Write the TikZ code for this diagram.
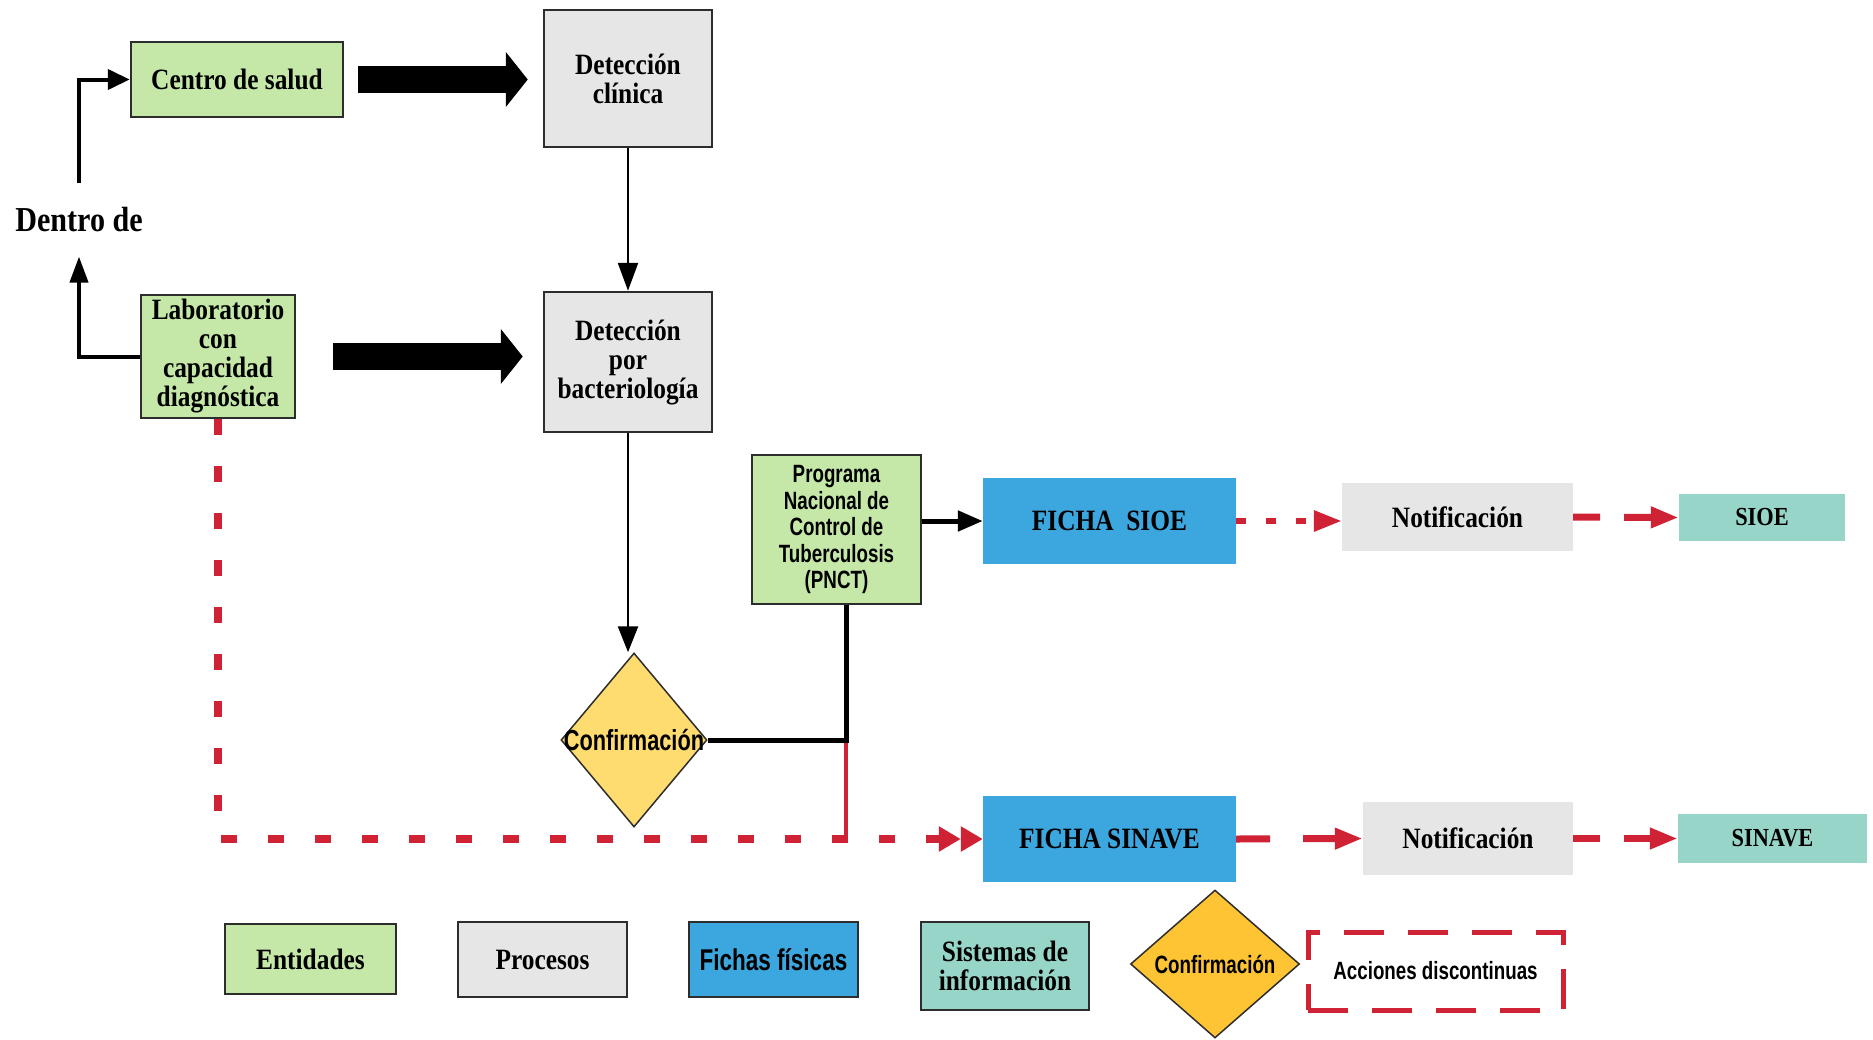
\documentclass[tikz,border=0pt]{standalone}
\usepackage{fontspec}
\usetikzlibrary{arrows.meta,shapes.geometric}
\newfontfamily\serifc[FakeStretch=0.86]{Liberation Serif}
\newfontfamily\sansc[FakeStretch=0.75]{Liberation Sans}
\newcommand{\fntM}{\serifc\bfseries\fontsize{29.5}{29}\selectfont}
\newcommand{\fntS}{\serifc\bfseries\fontsize{26}{26}\selectfont}
\newcommand{\fntD}{\serifc\bfseries\fontsize{35}{34}\selectfont}
\newcommand{\fntP}{\sansc\bfseries\fontsize{25}{26.5}\selectfont}
\newcommand{\fntC}{\sansc\bfseries\fontsize{29}{30}\selectfont}
\newcommand{\fntL}{\sansc\bfseries\fontsize{25}{26}\selectfont}
\newcommand{\fntF}{\sansc\bfseries\fontsize{30}{30}\selectfont}
\definecolor{entgreen}{RGB}{197,232,168}
\definecolor{procgray}{RGB}{230,230,230}
\definecolor{fichablue}{RGB}{60,166,222}
\definecolor{sisteal}{RGB}{150,213,200}
\definecolor{confyellow}{RGB}{255,220,112}
\definecolor{confdark}{RGB}{254,196,52}
\definecolor{redc}{RGB}{207,35,53}
\definecolor{boxline}{RGB}{45,45,45}
\begin{document}
\begin{tikzpicture}[x=1pt,y=-1pt,
  box/.style={rectangle, inner sep=0pt, align=center, text=black},
  ent/.style={box, fill=entgreen, draw=boxline, line width=2.5pt},
  proc/.style={box, fill=procgray, draw=boxline, line width=2.5pt},
  ficha/.style={box, fill=fichablue},
  notif/.style={box, fill=procgray},
  sis/.style={box, fill=sisteal},
  legbox/.style={box, draw=boxline, line width=2.5pt},
  decis/.style={diamond, inner sep=0pt, draw=boxline, line width=1.5pt},
  bigarrow/.style={line width=27pt, -{Triangle[length=22pt,width=54pt]}},
  thinarrow/.style={line width=4pt, -{Triangle[length=22pt,width=20pt]}},
  redsolid/.style={draw=redc, line width=7pt, -{Triangle[length=28pt,width=20pt]}}
]
\useasboundingbox (0,0) rectangle (1873,1039);

% nodes
\node[ent, font=\fntM, minimum width=212, minimum height=75] (centro) at (237,79.5) {Centro de salud};
\node[proc, font=\fntM, minimum width=168, minimum height=137] (detc) at (628,78.5) {Detección\\clínica};
\node[font=\fntD, inner xsep=2pt, inner ysep=24pt] (dentro) at (79,220) {Dentro de};
\node[ent, font=\fntM, minimum width=154, minimum height=123] (lab) at (218,356.5) {Laboratorio\\con\\capacidad\\diagnóstica};
\node[proc, font=\fntM, minimum width=168, minimum height=140] (detb) at (628,362) {Detección\\por\\bacteriología};
\node[decis, fill=confyellow, minimum width=146, minimum height=174, font=\fntC] (conf) at (634,740) {\makebox[0pt]{Confirmación}};
\node[ent, font=\fntP, minimum width=169, minimum height=149] (pnct) at (836.5,529.5) {Programa\\Nacional de\\Control de\\Tuberculosis\\(PNCT)};
\node[ficha, font=\fntM, minimum width=253, minimum height=86] (fsioe) at (1109.5,521) {FICHA\ \ SIOE};
\node[notif, font=\fntM, minimum width=231, minimum height=68] (not1) at (1457.5,517) {Notificación};
\node[sis, font=\fntS, minimum width=166, minimum height=47] (sioe) at (1762,517.5) {SIOE};
\node[ficha, font=\fntM, minimum width=253, minimum height=86] (fsinave) at (1109.5,839) {FICHA SINAVE};
\node[notif, font=\fntM, minimum width=210, minimum height=73] (not2) at (1468,838.5) {Notificación};
\node[sis, font=\fntS, minimum width=189, minimum height=49] (sinave) at (1772.5,838.5) {SINAVE};
\coordinate (jn) at (846,740);

% legend
\node[legbox, fill=entgreen, font=\fntM, minimum width=171, minimum height=70] (lent) at (310.5,959) {Entidades};
\node[legbox, fill=procgray, font=\fntM, minimum width=169, minimum height=75] (lproc) at (542.5,959.5) {Procesos};
\node[legbox, fill=fichablue, font=\fntF, minimum width=169, minimum height=75] (lfich) at (773.5,959.5) {Fichas físicas};
\node[legbox, fill=sisteal, font=\fntM, minimum width=168, minimum height=88] (lsis) at (1005,966) {Sistemas de\\información};
\node[decis, fill=confdark, minimum width=169, minimum height=148, font=\fntL] (lconf) at (1215,964) {\makebox[0pt]{Confirmación}};
\node[box, draw=redc, line width=5pt, dash pattern=on 40pt off 24pt, minimum width=255, minimum height=78, font=\fntL] (lacc) at (1435.5,971) {Acciones discontinuas};

% black connectors
\draw[thinarrow] (dentro.north) |- (centro.west);
\draw[line width=4pt, -{Triangle[length=26pt,width=18pt]}] (lab.west) -| (dentro.south);
\draw[bigarrow, shorten <=14pt, shorten >=15pt] (centro.east) -- (centro.east -| detc.west);
\draw[bigarrow, shorten <=37pt, shorten >=20pt] (lab.east) -- (lab.east -| detb.west);
\draw[line width=2.5pt, -{Triangle[length=28pt,width=20pt]}] (detc.south) -- (detb.north);
\draw[line width=2.5pt, -{Triangle[length=26pt,width=20pt]}] (detb.south) -- (detb.south |- conf.north);
\draw[line width=5pt, -{Triangle[length=25pt,width=20pt]}] (pnct.east |- fsioe.west) -- (fsioe.west);

% red connectors
\draw[draw=redc, line width=4pt] (jn) -- (jn |- fsinave.west);
\draw[line width=5pt] (conf.east) -- (jn) -- (jn |- pnct.south);
\draw[draw=redc, line width=8pt, dash pattern=on 16pt off 31pt,
  -{Triangle[length=22pt,width=24pt]Triangle[length=22pt,width=24pt]}] (lab.south) |- (fsinave.west);
\draw[redsolid, line width=6pt, dash pattern=on 10pt off 20pt] (fsioe.east) -- (fsioe.east -| not1.west);
\draw[redsolid, dash pattern=on 27pt off 24pt] (not1.east) -- (sioe.west);
\draw[redsolid, dash pattern=on 34pt off 33pt] (fsinave.east) -- (not2.west);
\draw[redsolid, dash pattern=on 27pt off 24pt] (not2.east) -- (sinave.west);
\end{tikzpicture}
\end{document}
